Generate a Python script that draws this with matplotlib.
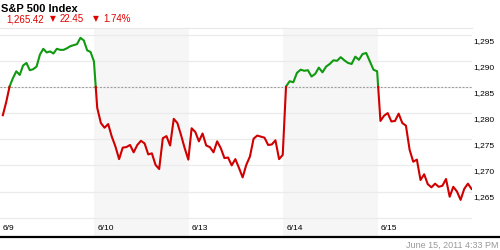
import numpy as np
import matplotlib
matplotlib.use("Agg")
import matplotlib.pyplot as plt
from matplotlib.lines import Line2D
from matplotlib.transforms import ScaledTranslation

plt.rcParams['font.family'] = ['Liberation Sans', 'DejaVu Sans']

# ---------------- data ----------------
day_labels = ["6/9", "6/10", "6/13", "6/14", "6/15"]
prev_close = 1285.0

d_0609 = [1279.6, 1282.1, 1285.1, 1286.7, 1288.0, 1287.3, 1289.1, 1289.6, 1288.2, 1288.4,
          1288.9, 1291.2, 1292.3, 1291.6, 1291.8, 1291.4, 1292.3, 1292.1, 1292.1, 1292.4,
          1292.8, 1293.0, 1293.2, 1294.4, 1293.9, 1292.0, 1291.7, 1289.9]
d_0610 = [1281.0, 1278.1, 1277.2, 1277.9, 1275.5, 1273.6, 1271.2, 1273.4, 1273.5, 1273.9,
          1272.5, 1273.9, 1274.7, 1274.2, 1272.1, 1272.3, 1270.1, 1269.3, 1275.2, 1275.6,
          1273.8, 1278.9, 1278.1, 1275.8, 1273.3, 1271.1]
d_0613 = [1277.1, 1276.4, 1274.6, 1276.1, 1273.8, 1273.5, 1272.5, 1274.6, 1273.3, 1271.4,
          1271.5, 1270.0, 1271.2, 1269.5, 1267.7, 1270.1, 1271.7, 1275.1, 1275.7, 1275.5,
          1275.3, 1273.9, 1274.0, 1274.8, 1271.2, 1272.0]
d_0614 = [1285.1, 1286.1, 1285.9, 1287.7, 1288.3, 1288.1, 1288.2, 1287.0, 1287.5, 1288.7,
          1287.8, 1288.9, 1289.4, 1290.1, 1290.0, 1290.7, 1290.1, 1289.6, 1289.4, 1290.8,
          1290.2, 1291.3, 1291.5, 1289.9, 1288.3, 1288.0]
d_0615 = [1278.5, 1279.5, 1280.0, 1278.4, 1278.5, 1279.9, 1278.1, 1277.6, 1273.0, 1270.7,
          1271.1, 1267.2, 1268.3, 1266.4, 1265.8, 1266.5, 1265.9, 1266.1, 1267.4, 1264.0,
          1265.9, 1265.0, 1263.4, 1265.5, 1266.5, 1265.5]
days = [d_0609, d_0610, d_0613, d_0614, d_0615]

ytick_values = [1260, 1265, 1270, 1275, 1280, 1285, 1290, 1295]
ytick_labels = ["", "1,265", "1,270", "1,275", "1,280", "1,285", "1,290", "1,295"]

title = "S&P 500 Index"
last_price = "1,265.42"
change_pts = "22.45"
change_pct = "1.74%"
timestamp = "June 15, 2011 4:33 PM"

# ---------------- build series ----------------
xs, ys = [], []
for i, vals in enumerate(days):
    n = len(vals)
    xs.extend(i + np.linspace(0.03, 0.995, n))
    ys.extend(vals)
xs = np.array(xs)
ys = np.array(ys)

# insert crossing points at the baseline
X, Y = [xs[0]], [ys[0]]
for k in range(1, len(xs)):
    y0, y1 = ys[k - 1], ys[k]
    if (y0 - prev_close) * (y1 - prev_close) < 0:
        t = (prev_close - y0) / (y1 - y0)
        X.append(xs[k - 1] + t * (xs[k] - xs[k - 1]))
        Y.append(prev_close)
    X.append(xs[k])
    Y.append(y1)
X = np.array(X)
Y = np.array(Y)
y_up = np.where(Y >= prev_close, Y, np.nan)
y_dn = np.where(Y <= prev_close, Y, np.nan)

# ---------------- figure ----------------
W, H = 500, 250
fig = plt.figure(figsize=(5, 2.5), dpi=100)
fig.patch.set_facecolor("white")
ax = fig.add_axes([0, 14 / H, 472 / W, 208 / H])
ax.set_facecolor("white")

ax.set_xlim(0, 5)
ax.set_ylim(1256.49, 1296.28)

for i in (1, 3):
    ax.axvspan(i, i + 1, color="#f6f6f6", zorder=0, lw=0)

ax.set_yticks(ytick_values)
ax.set_yticklabels(ytick_labels)
ax.yaxis.tick_right()
ax.tick_params(axis="y", length=0, pad=1, labelsize=6, colors="black")
ax.set_xticks([])
off = ScaledTranslation(0, -5.5 / 100, fig.dpi_scale_trans)
for lab in ax.get_yticklabels():
    lab.set_transform(lab.get_transform() + off)

ax.grid(axis="y", color="#ebebeb", lw=0.9, zorder=1)
ax.set_axisbelow(True)
for s in ("left", "right", "bottom"):
    ax.spines[s].set_visible(False)
ax.spines["top"].set_color("#e8e8e8")
ax.spines["top"].set_linewidth(0.8)

ax.axhline(prev_close, color="#9a9a9a", lw=0.8, dashes=(1.6, 1.6), zorder=2)

ax.plot(X, y_up, color="#0f9a0f", lw=1.5, zorder=3, solid_joinstyle="round")
ax.plot(X, y_dn, color="#d00000", lw=1.5, zorder=3, solid_joinstyle="round")

xt = ax.get_xaxis_transform()
for i, lab in enumerate(day_labels):
    ax.text(i + 3 / 94.4, 8 / 208, lab, transform=xt, fontsize=6,
            ha="left", va="center", color="black")

# bottom black rule
fig.add_artist(Line2D([0, 1], [1 - 237 / H, 1 - 237 / H], color="black", lw=1.6,
                      transform=fig.transFigure))
fig.text(499 / W, 1 - 245.5 / H, timestamp, fontsize=6.5, color="#999999",
         ha="right", va="center")

# header
fig.text(1 / W, 1 - 8.5 / H, title, fontsize=8, fontweight="bold", color="black",
         ha="left", va="center")
red = "#e00000"
fig.text(6 / W, 1 - 19 / H, last_price, fontsize=7, color=red, ha="left", va="center")
fig.text(50 / W, 1 - 19 / H, "\u25BC", fontsize=5.5, color=red, ha="left", va="center",
         family=["DejaVu Sans"])
fig.text(60 / W, 1 - 19 / H, change_pts, fontsize=7, color=red, ha="left", va="center")
fig.text(93 / W, 1 - 19 / H, "\u25BC", fontsize=5.5, color=red, ha="left", va="center",
         family=["DejaVu Sans"])
fig.text(103 / W, 1 - 19 / H, change_pct, fontsize=7, color=red, ha="left", va="center")

fig.savefig("out.png", dpi=100, facecolor="white")
